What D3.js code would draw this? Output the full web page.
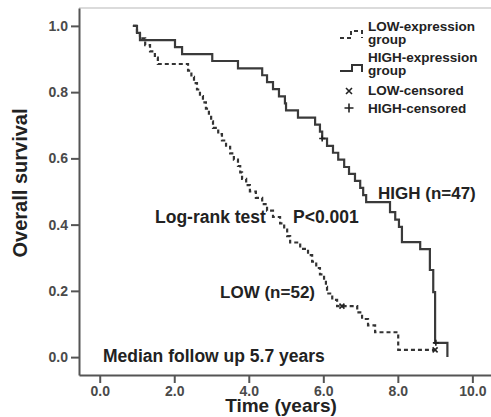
<!DOCTYPE html>
<html>
<head>
<meta charset="utf-8">
<script src="https://cdn.jsdelivr.net/npm/d3@7"></script>
<style>
  body { margin: 0; background: #fff; }
  svg { display: block; font-family: "Liberation Sans", Arial, sans-serif; }
  .axis path, .axis line { stroke: #555; stroke-width: 2; }
  .axis text { fill: #4a4a4a; font-size: 14px; font-weight: bold; }
  .note { fill: #222; font-weight: bold; }
</style>
</head>
<body>
<svg id="chart" width="491" height="417"></svg>
<script>
// Kaplan-Meier steps: time (years) and survival after each drop
const highTime = [0.89, 1.00, 1.08, 2.02, 2.21, 3.02, 3.71, 4.36, 4.49, 4.65, 4.81, 4.97, 5.00, 5.32, 5.78, 5.91, 5.97,
  6.10, 6.26, 6.40, 6.56, 6.69, 6.85, 6.99, 7.07, 7.15, 7.79, 7.93, 8.03, 8.11, 8.60, 8.86, 8.95, 9.00, 9.33];
const highSurv = [1.000, 0.979, 0.957, 0.936, 0.915, 0.894, 0.872, 0.851, 0.830, 0.809, 0.787, 0.766, 0.745, 0.723, 0.702, 0.681, 0.660,
  0.638, 0.617, 0.596, 0.574, 0.553, 0.532, 0.511, 0.489, 0.468, 0.438, 0.415, 0.393, 0.347, 0.326, 0.263, 0.196, 0.043, 0.000];

const lowTime = [0.89, 1.00, 1.08, 1.22, 1.35, 1.48, 1.56, 2.37, 2.46, 2.53, 2.61, 2.69, 2.77, 2.85, 2.93, 2.99, 3.04,
  3.18, 3.28, 3.39, 3.50, 3.60, 3.71, 3.77, 3.82, 3.93, 4.03, 4.19, 4.36, 4.49, 4.65, 4.84, 4.95, 5.03, 5.11,
  5.38, 5.59, 5.70, 5.81, 5.91, 6.02, 6.07, 6.10, 6.24, 6.37, 6.91, 7.04, 7.20, 7.39, 8.01, 9.00];
const lowSurv = [1.000, 0.981, 0.962, 0.942, 0.923, 0.904, 0.885, 0.865, 0.846, 0.827, 0.808, 0.788, 0.769, 0.750, 0.731, 0.712, 0.692,
  0.673, 0.654, 0.635, 0.615, 0.596, 0.577, 0.558, 0.538, 0.519, 0.500, 0.481, 0.462, 0.442, 0.423, 0.404, 0.385, 0.365, 0.346,
  0.327, 0.308, 0.288, 0.269, 0.250, 0.231, 0.212, 0.192, 0.173, 0.154, 0.135, 0.115, 0.096, 0.075, 0.022, 0.022];

const lowCensorTime = [6.50, 9.00];
const lowCensorSurv = [0.154, 0.022];
const highCensorTime = [5.97, 9.02];
const highCensorSurv = [0.660, 0.043];

const xTicks = [0, 2, 4, 6, 8, 10];
const yTicks = [0, 0.2, 0.4, 0.6, 0.8, 1.0];

const legendLabels = [["LOW-expression", "group"], ["HIGH-expression", "group"], ["LOW-censored"], ["HIGH-censored"]];

(function () {
  const svg = d3.select("#chart");
  const mLeft = 79, mRight = 491, mTop = 8, mBottom = 375;

  const x = d3.scaleLinear().domain([-0.556, 10.5]).range([mLeft, mRight]);
  const y = d3.scaleLinear().domain([-0.054, 1.054]).range([mBottom, mTop]);

  // light frame top
  svg.append("line")
    .attr("x1", mLeft).attr("x2", mRight).attr("y1", mTop).attr("y2", mTop)
    .attr("stroke", "#cfcfcf").attr("stroke-width", 1.5);

  svg.append("g")
    .attr("class", "axis")
    .attr("transform", `translate(0,${mBottom})`)
    .call(d3.axisBottom(x).tickValues(xTicks).tickFormat(d3.format(".1f")).tickSize(8).tickSizeOuter(0).tickPadding(3));

  svg.append("g")
    .attr("class", "axis")
    .attr("transform", `translate(${mLeft},0)`)
    .call(d3.axisLeft(y).tickValues(yTicks).tickFormat(d3.format(".1f")).tickSize(8).tickSizeOuter(0).tickPadding(3));

  // curves
  const line = d3.line().curve(d3.curveStepAfter).x((d) => x(d[0])).y((d) => y(d[1]));

  svg.append("path")
    .datum(d3.zip(lowTime, lowSurv))
    .attr("d", line)
    .attr("fill", "none").attr("stroke", "#333").attr("stroke-width", 2.2)
    .attr("stroke-dasharray", "4,3");

  svg.append("path")
    .datum(d3.zip(highTime, highSurv))
    .attr("d", line)
    .attr("fill", "none").attr("stroke", "#3a3a3a").attr("stroke-width", 2.2);

  function crossMark(g, cx, cy, r) {
    g.append("path")
      .attr("d", `M${cx - r},${cy - r}L${cx + r},${cy + r}M${cx - r},${cy + r}L${cx + r},${cy - r}`)
      .attr("stroke", "#222").attr("stroke-width", 1.6);
  }
  function plusMark(g, cx, cy, r) {
    g.append("path")
      .attr("d", `M${cx - r},${cy}H${cx + r}M${cx},${cy - r}V${cy + r}`)
      .attr("stroke", "#222").attr("stroke-width", 1.6);
  }

  const marks = svg.append("g");
  d3.zip(lowCensorTime, lowCensorSurv).forEach((d) => crossMark(marks, x(d[0]), y(d[1]), 2.5));
  d3.zip(highCensorTime, highCensorSurv).forEach((d) => plusMark(marks, x(d[0]), y(d[1]), 3));

  // axis titles
  svg.append("text")
    .attr("class", "note")
    .attr("transform", "translate(27,183) rotate(-90)")
    .attr("text-anchor", "middle")
    .style("font-size", "20px")
    .text("Overall survival");

  svg.append("text")
    .attr("class", "note")
    .attr("x", 281).attr("y", 412)
    .attr("text-anchor", "middle")
    .style("font-size", "19px")
    .text("Time (years)");

  // annotations
  svg.append("text").attr("class", "note").attr("x", 155).attr("y", 223).style("font-size", "17.5px").text("Log-rank test");
  svg.append("text").attr("class", "note").attr("x", 293).attr("y", 223).style("font-size", "17.5px").text("P<0.001");
  svg.append("text").attr("class", "note").attr("x", 378).attr("y", 199).style("font-size", "17px").text("HIGH (n=47)");
  svg.append("text").attr("class", "note").attr("x", 315).attr("y", 298).attr("text-anchor", "end").style("font-size", "17px").text("LOW (n=52)");
  svg.append("text").attr("class", "note").attr("x", 103).attr("y", 362).style("font-size", "17.5px").text("Median follow up 5.7 years");

  // legend
  const legend = svg.append("g");
  const legendY = [31, 62, 95, 113];
  legendLabels.forEach((lines, i) => {
    lines.forEach((s, j) => {
      legend.append("text")
        .attr("class", "note")
        .attr("x", 368).attr("y", legendY[i] + j * 13)
        .style("font-size", "13.5px")
        .text(s);
    });
  });
  legend.append("path")
    .attr("d", "M340,38H351V31H362V38")
    .attr("fill", "none").attr("stroke", "#333").attr("stroke-width", 2).attr("stroke-dasharray", "4,3");
  legend.append("path")
    .attr("d", "M340,71H352V65H362V72")
    .attr("fill", "none").attr("stroke", "#333").attr("stroke-width", 2);
  crossMark(legend, 349, 91, 3);
  plusMark(legend, 349, 108, 4.5);
})();
</script>
</body>
</html>
